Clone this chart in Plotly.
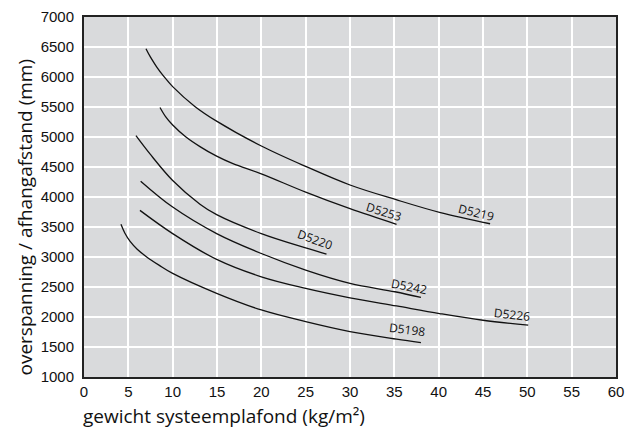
import plotly.graph_objects as go

# Curve data (x: kg/m², y: mm)
d5219_x = [6.99, 7.5, 8.19, 9.0, 10.0, 12.5, 15.0, 20.0, 25.0, 30.0, 35.2, 40.2, 45.8]
d5219_y = [6471, 6330, 6170, 6010, 5840, 5510, 5260, 4850, 4510, 4200, 3955, 3740, 3554]

d5253_x = [8.57, 9.2, 10.0, 11.5, 13.08, 14.96, 16.8, 20.0, 25.0, 30.0, 35.25]
d5253_y = [5492, 5340, 5200, 5000, 4840, 4680, 4555, 4386, 4081, 3805, 3545]

d5220_x = [5.86, 7.44, 10.0, 13.08, 14.96, 20.0, 25.0, 27.35]
d5220_y = [5022, 4718, 4275, 3880, 3705, 3390, 3151, 3047]

d5242_x = [6.39, 10.0, 14.96, 20.0, 25.0, 30.0, 35.06, 38.0]
d5242_y = [4264, 3832, 3390, 3058, 2781, 2560, 2421, 2326]

d5226_x = [6.31, 10.0, 14.96, 20.0, 25.0, 30.0, 35.25, 40.1, 45.0, 50.1]
d5226_y = [3777, 3390, 2960, 2670, 2477, 2320, 2184, 2058, 1946, 1863]

d5198_x = [4.17, 4.6, 5.2, 6.0, 7.0, 8.5, 10.0, 14.96, 20.0, 25.0, 30.0, 35.25, 38.0]
d5198_y = [3545, 3400, 3260, 3130, 3010, 2860, 2726, 2394, 2117, 1923, 1757, 1631, 1573]

series = [
    (d5219_x, d5219_y), (d5253_x, d5253_y), (d5220_x, d5220_y),
    (d5242_x, d5242_y), (d5226_x, d5226_y), (d5198_x, d5198_y),
]

label_names = ["D5219", "D5253", "D5220", "D5242", "D5226", "D5198"]
label_x = [44.25, 33.8, 26.04, 36.67, 48.25, 36.4]
label_y = [3736, 3765, 3296, 2507, 2047, 1785]
label_angle = [14, 17, 20, 11, 6, 7]

x_ticks = list(range(0, 61, 5))
y_ticks = list(range(1000, 7001, 500))

x_title = "gewicht systeemplafond (kg/m²)"
y_title = "overspanning / afhangafstand (mm)"

fig = go.Figure()
for xs, ys in series:
    fig.add_trace(go.Scatter(x=xs, y=ys, mode="lines",
                             line=dict(color="#111111", width=1.3, shape="spline", smoothing=1.0),
                             showlegend=False, hoverinfo="skip"))

for name, lx, ly, ang in zip(label_names, label_x, label_y, label_angle):
    fig.add_annotation(x=lx, y=ly, text=name, showarrow=False, textangle=ang,
                       font=dict(family="Open Sans, Lato, sans-serif", size=12, color="#111111"))

tick_font = dict(family="Liberation Sans, Arial, sans-serif", size=15, color="#111111")
title_font = dict(family="Open Sans, Lato, sans-serif", size=19, color="#111111")

fig.update_xaxes(range=[0, 60], tickvals=x_ticks, ticktext=[str(v) for v in x_ticks],
                 showgrid=True, gridcolor="white", gridwidth=2,
                 showline=True, linecolor="#222222", linewidth=2, mirror=True,
                 zeroline=False, ticks="", tickfont=tick_font,
                 automargin=False)
fig.update_yaxes(range=[1000, 7000], tickvals=y_ticks, ticktext=[str(v) for v in y_ticks],
                 showgrid=True, gridcolor="white", gridwidth=2,
                 showline=True, linecolor="#222222", linewidth=2, mirror=True,
                 zeroline=False, ticks="", tickfont=tick_font, ticklabelstandoff=5,
                 automargin=False)

W, H = 532.0, 360.0
# axis titles (left / bottom aligned as in the reference)
fig.add_annotation(xref="paper", yref="paper", x=(81 - 84) / W, y=(377 - 416) / H,
                   xanchor="left", yanchor="middle", text=x_title, showarrow=False,
                   font=title_font)
fig.add_annotation(xref="paper", yref="paper", x=(24 - 84) / W, y=(377 - 378) / H,
                   xanchor="center", yanchor="bottom", text=y_title, showarrow=False,
                   textangle=-90, font=title_font)

# the page body has an 8px default margin: the figure is sized so the plot area
# lands at x 84..616, y 17..377 of the window
fig.update_layout(width=627, height=423,
                  margin=dict(l=76, r=19, t=9, b=54),
                  plot_bgcolor="#d9dadc", paper_bgcolor="white")

fig.write_html("out.html")
